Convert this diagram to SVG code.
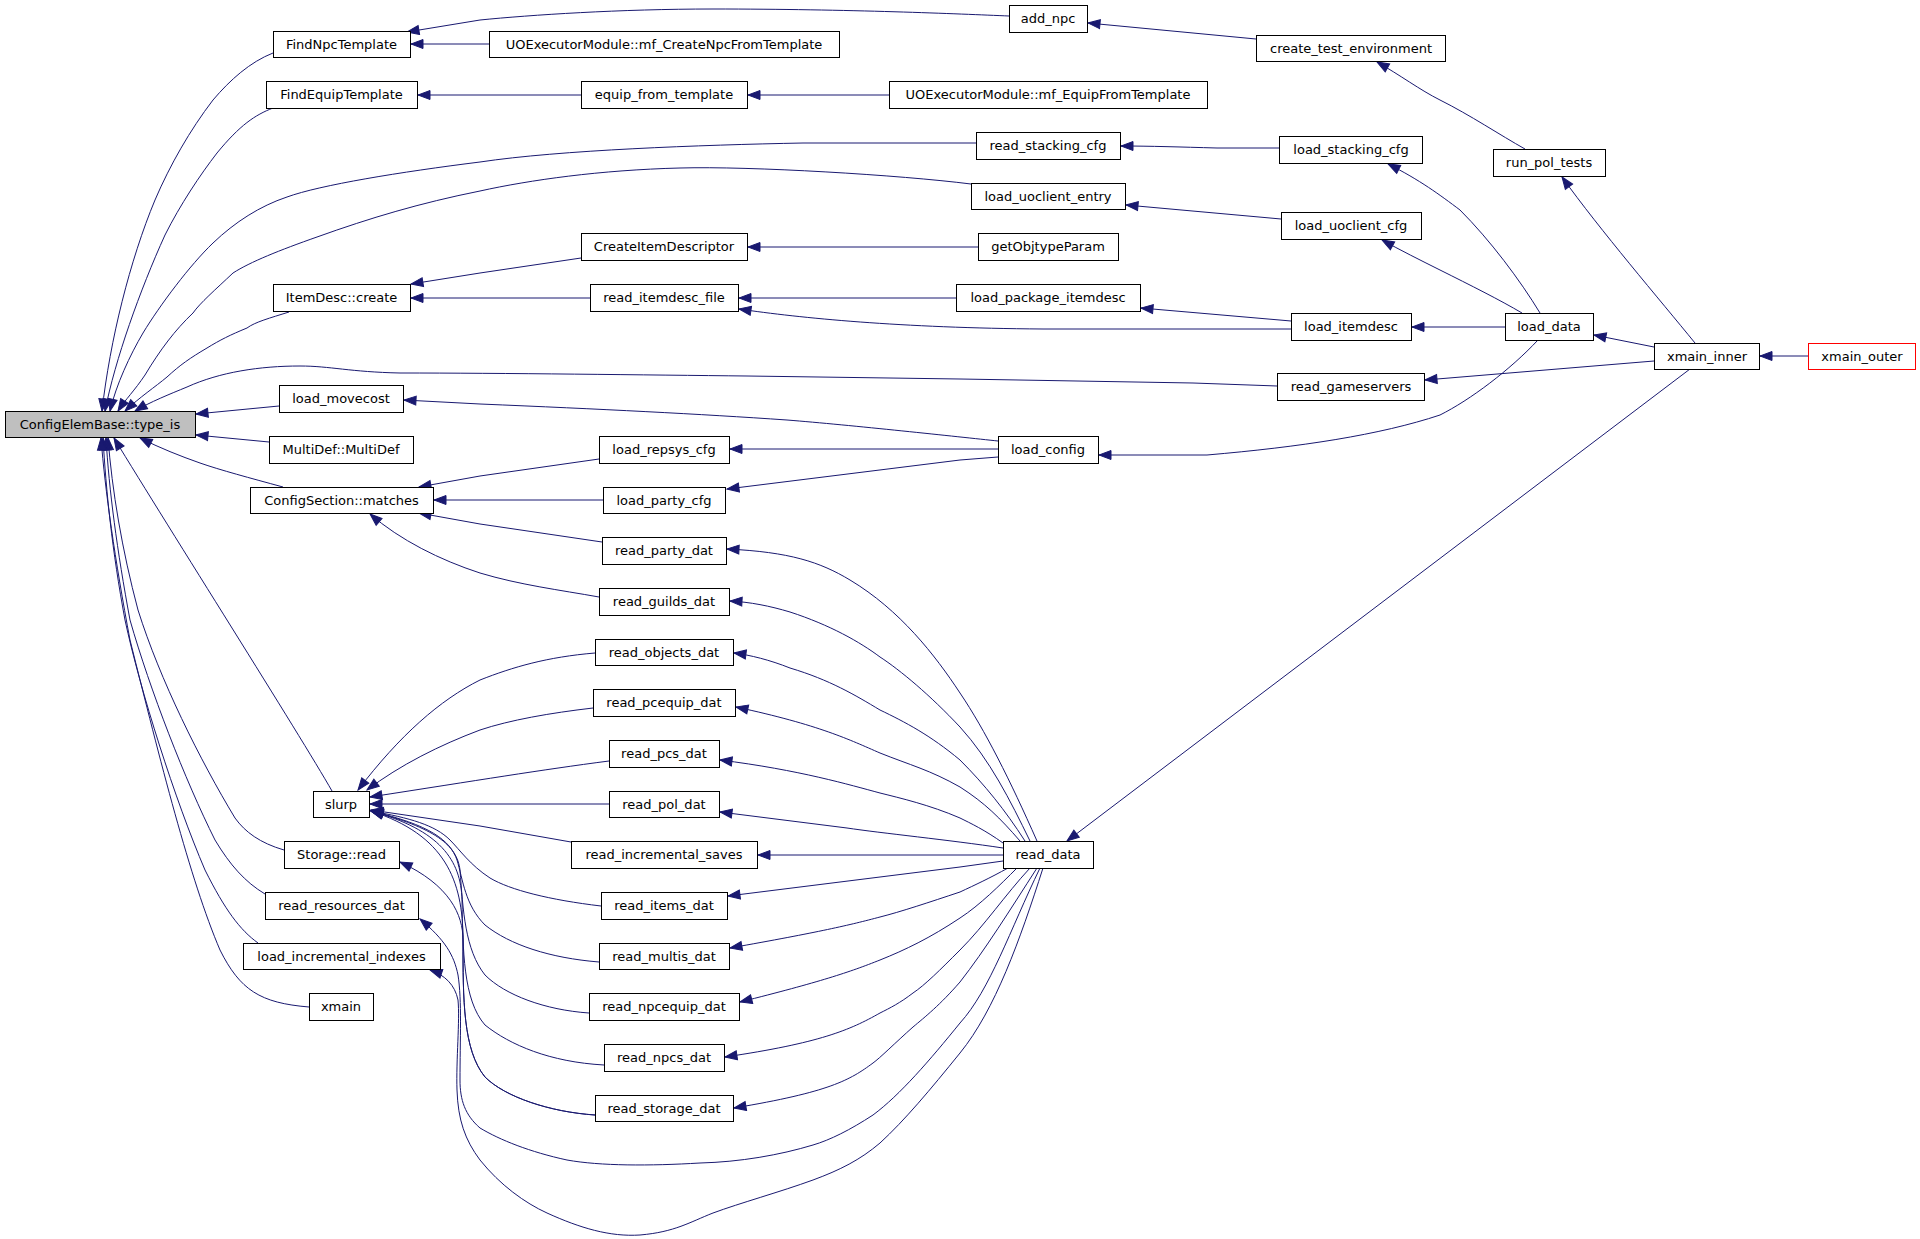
<svg xmlns="http://www.w3.org/2000/svg" width="1920" height="1239" viewBox="0 0 1920 1239">
<style>
.n rect{fill:#ffffff;stroke:#000000;stroke-width:1}
.n text{font-family:"DejaVu Sans","Liberation Sans",sans-serif;font-size:13px;text-anchor:middle;fill:#000000}
#n_type_is rect{fill:#bfbfbf}
#n_xmain_outer rect{stroke:#ff0000}
.e path{fill:none;stroke:#191970;stroke-width:1;marker-end:url(#ah)}
</style>
<defs>
<marker id="ah" markerUnits="userSpaceOnUse" markerWidth="14" markerHeight="11" refX="12" refY="5" orient="auto" overflow="visible">
<path d="M0,0.5 L12,5 L0,9.5 z" fill="#191970" stroke="#191970" stroke-width="1"/>
</marker>
</defs>
<rect x="0" y="0" width="1920" height="1239" fill="#ffffff"/>
<g id="connectors" class="e">
<!-- into ConfigElemBase::type_is -->
<path d="M273,53 C250,62 230,80 213,100 C190,130 170,165 155,200 C130,260 110,340 102,411"/>
<path d="M273,108 C255,115 240,125 217,153 C200,175 180,205 165,235 C140,290 115,360 105,411"/>
<path d="M976,143 L803,143 C700,145 560,150 480,162 C400,172 320,185 287,197 C260,206 235,222 213,243 C190,265 160,305 143,333 C130,355 116,385 110,411"/>
<path d="M971,184 C900,175 750,166 680,168 C600,170 530,180 480,191 C420,203 370,218 317,237 C280,250 250,262 233,273 C215,290 200,303 193,313 C175,330 160,350 145,375 C135,390 125,400 118,411"/>
<path d="M289,312 C270,318 255,322 247,328 C230,335 220,340 207,348 C190,358 180,365 167,377 C155,387 140,397 125,411"/>
<path d="M1277,386 L1193,383 L960,379 L747,376 C650,375 500,373 400,373 C350,372 330,366 300,366 C260,366 220,372 187,387 C170,394 150,402 135,411"/>
<path d="M279,406 L196,414"/>
<path d="M269,442 L196,435"/>
<path d="M283,487 C250,478 220,470 200,463 C180,456 160,448 140,438"/>
<path d="M332,791 C300,735 170,530 114,438"/>
<path d="M284,850 C260,843 245,832 235,818 C200,760 160,680 138,610 C122,550 112,490 108,438"/>
<path d="M265,894 C245,882 230,865 215,840 C185,780 150,690 130,620 C117,550 109,490 106,438"/>
<path d="M258,943 C240,930 225,910 205,870 C175,800 140,690 125,620 C112,550 106,490 103,438"/>
<path d="M309,1007 C260,1003 240,990 220,950 C190,880 160,760 130,640 C115,560 105,490 101,438"/>
<!-- FindNpcTemplate / FindEquipTemplate chains -->
<path d="M1009,16 C960,14 850,9 713,9 C620,9 530,15 480,20 L407,32"/>
<path d="M489,44 L411,44"/>
<path d="M1256,39 L1088,23"/>
<path d="M581,95 L418,95"/>
<path d="M889,95 L748,95"/>
<path d="M1525,149 C1500,135 1470,115 1440,100 C1420,90 1400,75 1377,62"/>
<path d="M1695,343 C1660,300 1600,230 1562,177"/>
<!-- stacking / uoclient -->
<path d="M1279,148 L1217,148 C1180,147 1150,146 1121,146"/>
<path d="M1281,219 L1126,205"/>
<path d="M1540,313 C1520,280 1490,240 1460,210 C1440,195 1420,180 1388,164"/>
<path d="M1522,313 C1500,300 1470,285 1440,270 C1420,260 1400,250 1382,240"/>
<!-- itemdesc -->
<path d="M978,247 L748,247"/>
<path d="M581,258 L480,273 L411,284"/>
<path d="M590,298 L411,298"/>
<path d="M956,298 L739,298"/>
<path d="M1291,329 L1043,329 C900,328 800,318 739,309"/>
<path d="M1291,321 L1141,308"/>
<path d="M1505,327 L1412,327"/>
<path d="M1654,347 L1594,335"/>
<path d="M1654,361 L1425,380"/>
<path d="M1808,356 L1760,356"/>
<!-- load_config -->
<path d="M1538,340 C1510,370 1470,400 1440,415 C1380,435 1300,447 1207,455 L1099,455"/>
<path d="M998,441 C960,437 850,425 787,420 C700,414 600,409 480,404 L404,400"/>
<path d="M998,449 L730,449"/>
<path d="M998,457 L960,460 L727,489"/>
<!-- ConfigSection::matches -->
<path d="M599,459 L480,476 L419,487"/>
<path d="M603,500 L434,500"/>
<path d="M602,542 L480,524 L419,513"/>
<path d="M599,597 C560,590 520,585 480,573 C440,560 400,540 370,514"/>
<!-- read_data -->
<path d="M1690,369 L1067,841"/>
<path d="M1037,841 C1010,780 985,730 960,693 C935,655 900,610 850,580 C820,562 790,552 727,549"/>
<path d="M1030,841 C1010,800 990,760 960,727 C930,695 900,670 880,657 C860,642 830,625 790,612 C770,606 750,602 730,601"/>
<path d="M1025,841 C1005,810 985,785 960,760 C930,735 905,722 880,710 C855,695 830,680 790,668 C770,660 750,655 734,653"/>
<path d="M1020,841 C1000,818 985,803 960,787 C930,770 910,765 880,753 C850,740 820,725 736,707"/>
<path d="M1003,843 C985,830 970,823 960,818 C930,805 900,798 880,793 C850,785 800,770 720,760"/>
<path d="M1003,848 C950,840 880,833 847,828 L720,812"/>
<path d="M1003,855 L758,855"/>
<path d="M1003,861 L960,867 L728,896"/>
<path d="M1008,868 C990,878 975,885 960,892 C930,902 900,912 880,917 C850,925 820,932 730,948"/>
<path d="M1017,868 C1000,885 980,905 960,918 C930,938 905,950 880,960 C850,972 820,982 740,1002"/>
<path d="M1030,868 C1005,895 985,925 960,950 C940,970 925,985 913,993 C900,1003 890,1008 880,1013 C850,1030 820,1043 725,1057"/>
<path d="M1037,868 C1010,910 985,950 960,982 C940,1005 925,1017 913,1027 C895,1043 880,1058 873,1063 C850,1080 830,1092 734,1108"/>
<path d="M1040,868 C1010,930 990,990 960,1023 C930,1060 900,1095 873,1115 C850,1130 830,1140 813,1145 C780,1155 740,1162 700,1163 C650,1166 600,1166 567,1160 C530,1152 500,1140 480,1128 C465,1115 460,1100 460,1080 C460,1040 462,1000 458,975 C454,955 445,940 420,919"/>
<path d="M1043,868 C1020,940 995,1010 960,1053 C930,1090 905,1120 880,1143 C860,1160 840,1170 813,1180 C780,1192 740,1203 713,1213 C690,1222 675,1232 640,1235 C610,1237 580,1228 547,1213 C525,1203 500,1185 480,1160 C465,1140 458,1120 457,1090 C456,1060 460,1020 458,1000 C455,985 445,975 430,970"/>
<!-- Storage::read -->
<path d="M595,1115 C550,1112 505,1097 485,1077 C463,1050 463,1000 463,940 C463,915 450,885 400,862"/>
<!-- slurp -->
<path d="M595,653 C547,657 513,667 480,680 C440,700 400,735 358,790"/>
<path d="M593,708 C550,713 510,720 480,730 C440,745 400,765 367,790"/>
<path d="M609,761 C540,770 480,780 370,797"/>
<path d="M609,804 L370,804"/>
<path d="M571,842 L480,826 L371,810"/>
<path d="M601,906 C550,900 510,890 490,878 C470,865 460,850 450,840 C435,825 410,818 371,811"/>
<path d="M599,962 C550,958 510,945 485,925 C465,905 463,880 457,860 C450,840 430,825 371,811"/>
<path d="M589,1013 C545,1010 505,995 485,975 C465,950 463,910 460,870 C457,845 435,828 371,811"/>
<path d="M604,1065 C550,1062 510,1045 485,1025 C463,1000 463,950 462,900 C461,860 440,830 371,811"/>
<path d="M595,1115 C550,1112 505,1097 485,1077 C463,1050 463,1000 463,940 C463,880 445,835 371,811"/>
</g>
<g id="n_type_is" class="n"><rect x="5.5" y="411.5" width="190" height="26"/><text x="100" y="428.5">ConfigElemBase::type_is</text></g>
<g id="n_FindNpcTemplate" class="n"><rect x="273.5" y="31.5" width="137" height="26"/><text x="341.5" y="48.5">FindNpcTemplate</text></g>
<g id="n_FindEquipTemplate" class="n"><rect x="266.5" y="81.5" width="151" height="27"/><text x="341.5" y="99">FindEquipTemplate</text></g>
<g id="n_ItemDesc_create" class="n"><rect x="273.5" y="284.5" width="137" height="27"/><text x="341.5" y="302">ItemDesc::create</text></g>
<g id="n_load_movecost" class="n"><rect x="279.5" y="385.5" width="124" height="27"/><text x="341" y="403">load_movecost</text></g>
<g id="n_MultiDef" class="n"><rect x="269.5" y="436.5" width="144" height="27"/><text x="341" y="454">MultiDef::MultiDef</text></g>
<g id="n_ConfigSection_matches" class="n"><rect x="250.5" y="487.5" width="183" height="26"/><text x="341.5" y="504.5">ConfigSection::matches</text></g>
<g id="n_slurp" class="n"><rect x="313.5" y="791.5" width="56" height="26"/><text x="341" y="808.5">slurp</text></g>
<g id="n_Storage_read" class="n"><rect x="284.5" y="841.5" width="115" height="27"/><text x="341.5" y="859">Storage::read</text></g>
<g id="n_read_resources_dat" class="n"><rect x="265.5" y="892.5" width="153" height="27"/><text x="341.5" y="910">read_resources_dat</text></g>
<g id="n_load_incremental_indexes" class="n"><rect x="243.5" y="943.5" width="197" height="26"/><text x="341.5" y="960.5">load_incremental_indexes</text></g>
<g id="n_xmain" class="n"><rect x="309.5" y="993.5" width="64" height="27"/><text x="341" y="1011">xmain</text></g>
<g id="n_mf_CreateNpcFromTemplate" class="n"><rect x="489.5" y="31.5" width="350" height="26"/><text x="664" y="48.5">UOExecutorModule::mf_CreateNpcFromTemplate</text></g>
<g id="n_equip_from_template" class="n"><rect x="581.5" y="81.5" width="166" height="27"/><text x="664" y="99">equip_from_template</text></g>
<g id="n_CreateItemDescriptor" class="n"><rect x="581.5" y="233.5" width="166" height="27"/><text x="664" y="251">CreateItemDescriptor</text></g>
<g id="n_read_itemdesc_file" class="n"><rect x="590.5" y="284.5" width="148" height="27"/><text x="664" y="302">read_itemdesc_file</text></g>
<g id="n_load_repsys_cfg" class="n"><rect x="599.5" y="436.5" width="130" height="27"/><text x="664" y="454">load_repsys_cfg</text></g>
<g id="n_load_party_cfg" class="n"><rect x="603.5" y="487.5" width="122" height="26"/><text x="664" y="504.5">load_party_cfg</text></g>
<g id="n_read_party_dat" class="n"><rect x="602.5" y="537.5" width="124" height="27"/><text x="664" y="555">read_party_dat</text></g>
<g id="n_read_guilds_dat" class="n"><rect x="599.5" y="588.5" width="130" height="27"/><text x="664" y="606">read_guilds_dat</text></g>
<g id="n_read_objects_dat" class="n"><rect x="595.5" y="639.5" width="138" height="26"/><text x="664" y="656.5">read_objects_dat</text></g>
<g id="n_read_pcequip_dat" class="n"><rect x="593.5" y="689.5" width="142" height="27"/><text x="664" y="707">read_pcequip_dat</text></g>
<g id="n_read_pcs_dat" class="n"><rect x="609.5" y="740.5" width="110" height="27"/><text x="664" y="758">read_pcs_dat</text></g>
<g id="n_read_pol_dat" class="n"><rect x="609.5" y="791.5" width="110" height="26"/><text x="664" y="808.5">read_pol_dat</text></g>
<g id="n_read_incremental_saves" class="n"><rect x="571.5" y="841.5" width="186" height="27"/><text x="664" y="859">read_incremental_saves</text></g>
<g id="n_read_items_dat" class="n"><rect x="601.5" y="892.5" width="126" height="27"/><text x="664" y="910">read_items_dat</text></g>
<g id="n_read_multis_dat" class="n"><rect x="599.5" y="943.5" width="130" height="26"/><text x="664" y="960.5">read_multis_dat</text></g>
<g id="n_read_npcequip_dat" class="n"><rect x="589.5" y="993.5" width="150" height="27"/><text x="664" y="1011">read_npcequip_dat</text></g>
<g id="n_read_npcs_dat" class="n"><rect x="604.5" y="1044.5" width="120" height="27"/><text x="664" y="1062">read_npcs_dat</text></g>
<g id="n_read_storage_dat" class="n"><rect x="595.5" y="1095.5" width="138" height="26"/><text x="664" y="1112.5">read_storage_dat</text></g>
<g id="n_add_npc" class="n"><rect x="1009.5" y="5.5" width="78" height="27"/><text x="1048" y="23">add_npc</text></g>
<g id="n_mf_EquipFromTemplate" class="n"><rect x="889.5" y="81.5" width="318" height="27"/><text x="1048" y="99">UOExecutorModule::mf_EquipFromTemplate</text></g>
<g id="n_read_stacking_cfg" class="n"><rect x="976.5" y="132.5" width="144" height="27"/><text x="1048" y="150">read_stacking_cfg</text></g>
<g id="n_load_uoclient_entry" class="n"><rect x="971.5" y="183.5" width="154" height="26"/><text x="1048" y="200.5">load_uoclient_entry</text></g>
<g id="n_getObjtypeParam" class="n"><rect x="978.5" y="233.5" width="140" height="27"/><text x="1048" y="251">getObjtypeParam</text></g>
<g id="n_load_package_itemdesc" class="n"><rect x="956.5" y="284.5" width="184" height="27"/><text x="1048" y="302">load_package_itemdesc</text></g>
<g id="n_load_config" class="n"><rect x="998.5" y="436.5" width="100" height="27"/><text x="1048" y="454">load_config</text></g>
<g id="n_read_data" class="n"><rect x="1003.5" y="841.5" width="90" height="27"/><text x="1048" y="859">read_data</text></g>
<g id="n_create_test_environment" class="n"><rect x="1256.5" y="35.5" width="189" height="26"/><text x="1351" y="52.5">create_test_environment</text></g>
<g id="n_load_stacking_cfg" class="n"><rect x="1279.5" y="136.5" width="143" height="27"/><text x="1351" y="154">load_stacking_cfg</text></g>
<g id="n_load_uoclient_cfg" class="n"><rect x="1281.5" y="212.5" width="140" height="27"/><text x="1351" y="230">load_uoclient_cfg</text></g>
<g id="n_load_itemdesc" class="n"><rect x="1291.5" y="313.5" width="120" height="27"/><text x="1351" y="331">load_itemdesc</text></g>
<g id="n_read_gameservers" class="n"><rect x="1277.5" y="373.5" width="147" height="27"/><text x="1351" y="391">read_gameservers</text></g>
<g id="n_run_pol_tests" class="n"><rect x="1493.5" y="149.5" width="112" height="27"/><text x="1549" y="167">run_pol_tests</text></g>
<g id="n_load_data" class="n"><rect x="1505.5" y="313.5" width="88" height="27"/><text x="1549" y="331">load_data</text></g>
<g id="n_xmain_inner" class="n"><rect x="1654.5" y="343.5" width="105" height="26"/><text x="1707" y="360.5">xmain_inner</text></g>
<g id="n_xmain_outer" class="n"><rect x="1808.5" y="343.5" width="107" height="26"/><text x="1862" y="360.5">xmain_outer</text></g>
</svg>
